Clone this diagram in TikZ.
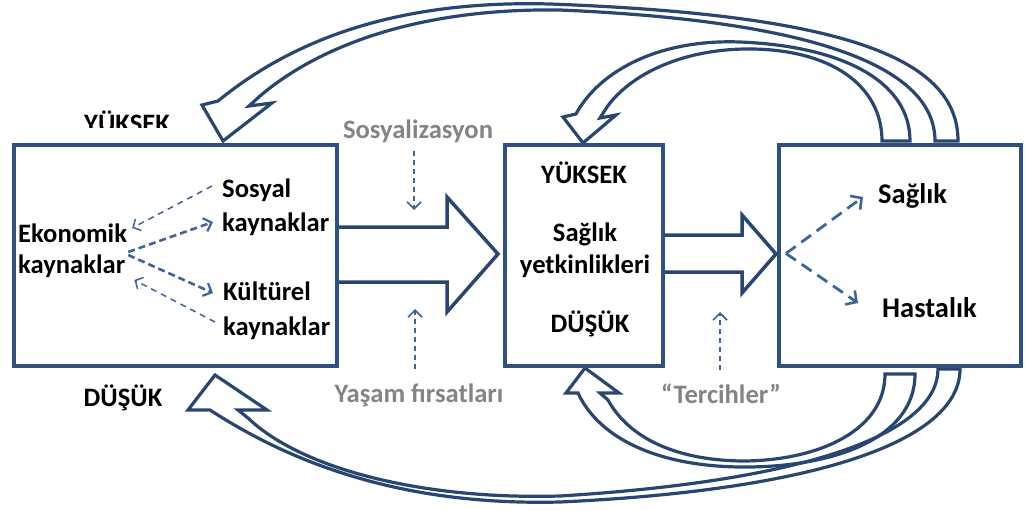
\documentclass[tikz,border=0pt]{standalone}
\usepackage{fontspec}
\setmainfont{Carlito}
\usetikzlibrary{arrows.meta,calc}
\definecolor{navy}{RGB}{40,70,112}
\definecolor{boxblue}{RGB}{48,80,126}
\definecolor{dashblue}{RGB}{62,100,152}
\definecolor{labelgray}{RGB}{132,132,132}
\begin{document}
\begin{tikzpicture}[x=1pt,y=-1pt,
  box/.style={draw=boxblue, line width=4pt, fill=white, inner sep=0pt},
  txt/.style={font=\fontsize{26.6}{31}\selectfont\bfseries, inner sep=0pt, anchor=base},
  txtl/.style={txt, anchor=base west},
  bigtxt/.style={font=\fontsize{28.5}{33}\selectfont\bfseries, inner sep=0pt, anchor=base west},
  greytxt/.style={txt, text=labelgray},
  blockarrow/.style={draw=navy, line width=3.5pt, line join=miter},
  curvearrow/.style={draw=navy, line width=3.2pt, line join=miter},
  thindash/.style={draw=dashblue, line width=1.5pt, dash pattern=on 6pt off 5pt,
    -{Straight Barb[length=6pt,width=13pt,line width=1.5pt]}},
  thickdash/.style={draw=dashblue, line width=2.6pt, dash pattern=on 7pt off 4pt,
    -{Straight Barb[length=7pt,width=14pt,line width=2.2pt]}},
  vdash/.style={draw=dashblue, line width=1.8pt, dash pattern=on 5pt off 4pt,
    -{Straight Barb[length=7pt,width=14pt,line width=1.6pt]}},
  outdash/.style={draw=dashblue, line width=2.8pt, dash pattern=on 12pt off 7pt,
    -{Straight Barb[length=8pt,width=17pt,line width=2.6pt]}},
]
\useasboundingbox (0,0) rectangle (1026,511);

% feedback loops above the boxes
\draw[curvearrow] (935,141) -- (958,141)
  .. controls (958,60) and (850,15) .. (550,4)
  .. controls (400,0) and (295,38) .. (218,101)
  -- (202,105) -- (223,141) -- (272,103) -- (249,106) -- (260,96)
  .. controls (320,45) and (420,8) .. (560,10)
  .. controls (840,22) and (935,75) .. (935,141) -- cycle;
\draw[curvearrow] (882,141) -- (910,141)
  .. controls (910,80) and (840,46) .. (740,42)
  .. controls (660,39) and (600,70) .. (576,114)
  -- (563,117) -- (583,143) -- (616,115) -- (600,118) -- (607,107)
  .. controls (630,75) and (680,50) .. (745,49)
  .. controls (830,48) and (882,85) .. (882,141) -- cycle;

% feedback loops below the boxes
\draw[curvearrow] (938,369) -- (960,369)
  .. controls (960,440) and (820,490) .. (560,502)
  .. controls (400,506) and (290,462) .. (210,410)
  -- (188,410) -- (215,375) -- (267,410) -- (238,410) -- (248,418)
  .. controls (300,468) and (420,500) .. (560,496)
  .. controls (820,480) and (938,430) .. (938,369) -- cycle;
\draw[curvearrow] (885,374) -- (915,374)
  .. controls (915,440) and (830,468) .. (740,467)
  .. controls (660,466) and (600,440) .. (578,393)
  -- (566,393) -- (585,368) -- (619,393) -- (600,393) -- (608,400)
  .. controls (630,440) and (680,461) .. (745,461)
  .. controls (820,460) and (885,430) .. (885,374) -- cycle;

% the three boxes
\node[box, minimum width=323pt, minimum height=221pt] (L) at (175.5,255.5) {};
\node[box, minimum width=158pt, minimum height=221pt] (M) at (584,255.5) {};
\node[box, minimum width=242pt, minimum height=221pt] (R) at (900,255.5) {};

% block arrows between the boxes
\draw[blockarrow] (L.east |- 0,227) -- (447,227) -- (447,197) -- (498,254)
  -- (447,312) -- (447,282) -- (L.east |- 0,282);
\draw[blockarrow] (M.east |- 0,235) -- (742,235) -- (742,215) -- (776,254)
  -- (742,293) -- (742,272) -- (M.east |- 0,272);

% labels outside the boxes
\begin{scope}
  \clip (60,100) rectangle (200,127);
  \node[txt] (hiL) at (127,132) {YÜKSEK};
\end{scope}
\node[txt] (loL) at (123,406) {DÜŞÜK};
\node[greytxt] (sosy) at (418,139) {Sosyalizasyon};
\node[greytxt] (yasam) at (419,402) {Yaşam fırsatları};
\node[greytxt] (terc) at (721,403) {“Tercihler”};

% resources in the left box
\node[txtl] (eko1) at (18,242) {Ekonomik};
\node[txtl] (eko2) at (18,273) {kaynaklar};
\node[txtl] (sos1) at (222,197) {Sosyal};
\node[txtl] (sos2) at (222,231) {kaynaklar};
\node[txtl] (kul1) at (223,300) {Kültürel};
\node[txtl] (kul2) at (223,335) {kaynaklar};

% middle box
\node[txt] (hiM) at (584,183) {YÜKSEK};
\node[txt] (sagM) at (585,241) {Sağlık};
\node[txt] (yet) at (585,273) {yetkinlikleri};
\node[txt] (loM) at (590,332) {DÜŞÜK};

% right box
\node[bigtxt] (sagR) at (878,203) {Sağlık};
\node[bigtxt] (hast) at (882,317) {Hastalık};

% dashed links between the resources
\draw[thindash] ($(sos1.base west)+(-10,-11)$) -- ($(eko1.base east)+(5,-14)$);
\draw[thickdash] ($(eko1.base east)+(1,10)$) -- ($(sos2.base west)+(-9,-9)$);
\draw[thickdash] ($(eko1.base east)+(1,13)$) -- ($(kul1.base west)+(-10,-7)$);
\draw[thindash] ($(kul2.base west)+(-8,-13)$) -- ($(eko2.base east)+(9,7)$);

% influences on the first block arrow and the second
\draw[vdash] ($(sosy.base)+(-4,12)$) -- ($(sosy.base)+(-4,71)$);
\draw[vdash] ($(yasam.base)+(-4,-33)$) -- ($(yasam.base)+(-4,-93)$);
\draw[vdash] ($(terc.base)+(-1,-33)$) -- ($(terc.base)+(-1,-91)$);

% outcomes in the right box
\coordinate (fork) at ($(R.west)+(9,-2)$);
\draw[outdash] (fork) -- ($(sagR.base west)+(-15,-6)$);
\draw[outdash] (fork) -- ($(hast.base west)+(-24,-14)$);
\end{tikzpicture}
\end{document}
